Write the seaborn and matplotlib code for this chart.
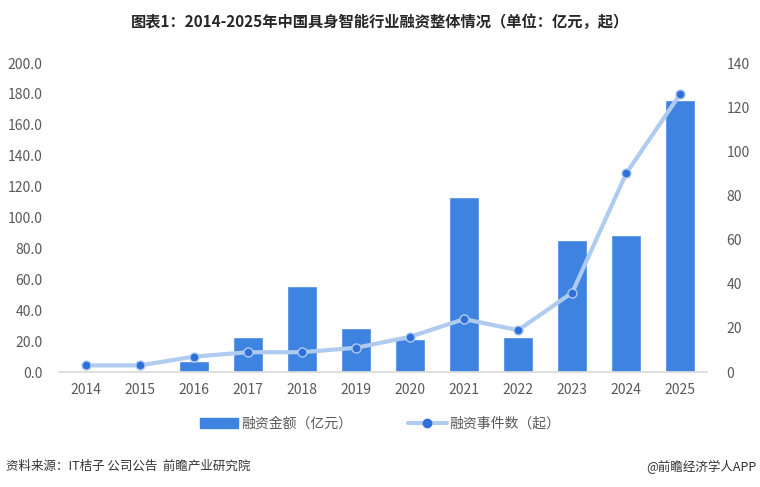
import numpy as np
import pandas as pd
import matplotlib
matplotlib.use("Agg")
import matplotlib.pyplot as plt
from matplotlib.lines import Line2D
from matplotlib.patches import Patch
import seaborn as sns

years = ["2014", "2015", "2016", "2017", "2018", "2019", "2020", "2021", "2022", "2023", "2024", "2025"]
amount = [0.0, 0.8, 7.2, 22.7, 55.8, 28.6, 21.5, 113.5, 22.6, 85.6, 88.8, 176.0]
events = [3, 3, 7, 9, 9, 11, 16, 24, 19, 36, 90, 126]

title = "图表1：2014-2025年中国具身智能行业融资整体情况（单位：亿元，起）"
bar_label = "融资金额（亿元）"
line_label = "融资事件数（起）"
source = "资料来源：IT桔子 公司公告  前瞻产业研究院"
brand = "@前瞻经济学人APP"

sns.set_theme(style="white")
plt.rcParams["font.family"] = ["Noto Sans CJK SC", "DejaVu Sans"]

BAR = "#3F83E0"
LINE = "#AFCBF0"
MARK = "#2E6FD9"
TXT = "#595959"

df = pd.DataFrame({"year": years, "amount": amount, "events": events})
df["pos"] = np.arange(len(years))

fig = plt.figure(figsize=(7.6, 4.87), dpi=100)
ax = fig.add_axes([0.0776, 0.236, 0.853, 0.6345])
sns.barplot(data=df, x="year", y="amount", color=BAR, saturation=1, width=0.56, ax=ax)
ax.set_ylim(0, 200)
ax.set_yticks(np.arange(0, 201, 20))
ax.set_yticklabels([f"{v:.1f}" for v in np.arange(0, 201, 20)])
ax.set_xlim(-0.5, len(years) - 0.5)
ax.set_xlabel("")
ax.set_ylabel("")
for s in ["top", "right", "left"]:
    ax.spines[s].set_visible(False)
ax.spines["bottom"].set_color("#D9D9D9")
ax.tick_params(axis="both", length=0, colors=TXT, labelsize=10)
ax.tick_params(axis="x", pad=8)
ax.tick_params(axis="y", pad=12)

ax2 = ax.twinx()
sns.lineplot(data=df, x="pos", y="events", color=LINE, linewidth=3, marker="o",
             markersize=6.5, markerfacecolor=MARK, markeredgecolor=LINE,
             markeredgewidth=1.0, ax=ax2)
ax2.set_ylim(0, 140)
ax2.set_yticks(np.arange(0, 141, 20))
ax2.set_xlim(-0.5, len(years) - 0.5)
ax2.set_xlabel("")
ax2.set_ylabel("")
for s in ["top", "right", "left", "bottom"]:
    ax2.spines[s].set_visible(False)
ax2.tick_params(axis="y", length=0, colors=TXT, labelsize=10, pad=14)

handles = [Patch(facecolor=BAR, edgecolor=BAR),
           Line2D([0], [0], color=LINE, lw=3, marker="o", markersize=6,
                  markerfacecolor=MARK, markeredgecolor=MARK)]
fig.legend(handles, [bar_label, line_label], loc="center", bbox_to_anchor=(0.5, 0.13),
           ncol=2, frameon=False, fontsize=10, labelcolor=TXT, columnspacing=4,
           handlelength=2.8, handletextpad=0.2)

fig.text(0.5, 0.955, title, ha="center", va="center", fontsize=11, fontweight="bold", color="#262626")
fig.text(0.008, 0.042, source, ha="left", va="center", fontsize=9, color="#333333")
fig.text(0.995, 0.042, brand, ha="right", va="center", fontsize=9, color="#333333")

fig.savefig("out.png", dpi=100)
